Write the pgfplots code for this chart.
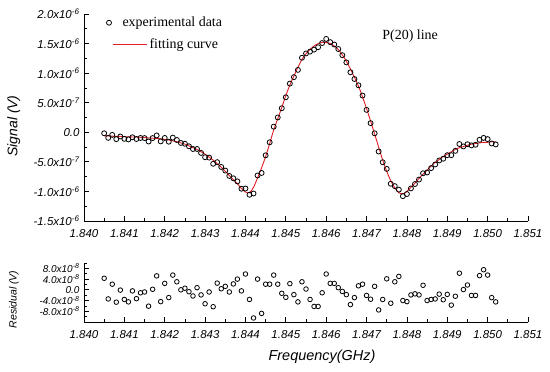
\documentclass[border=0pt]{standalone}
\usepackage{pgfplots}
\usepackage{pgfplotstable}
\pgfplotsset{compat=1.18}
\usepackage{fontspec}
\setmainfont{Liberation Serif}
\setsansfont{Liberation Sans}
\definecolor{fitred}{RGB}{228,28,36}

% f, residual r (in 1e-8 V), fitted curve (in 1e-6 V)
\pgfplotstableread{
f r fit
1.8405 4.3 -0.060
1.8406 -3.4 -0.060
1.8407 2.1 -0.065
1.8408 -4.6 -0.070
1.8409 -0.1 -0.070
1.8410 -3.6 -0.075
1.8411 -4.5 -0.075
1.8412 -0.4 -0.080
1.8413 -3.3 -0.080
1.8414 -1.1 -0.085
1.8415 -0.8 -0.090
1.8416 -6.1 -0.095
1.8417 0.2 -0.100
1.8418 5.2 -0.105
1.8419 -4.4 -0.110
1.8420 2.4 -0.120
1.8421 -2.9 -0.130
1.8422 5.5 -0.145
1.8423 3.0 -0.160
1.8424 0.0 -0.180
1.8425 0.6 -0.200
1.8426 -0.7 -0.230
1.8427 -2.3 -0.260
1.8428 0.8 -0.290
1.8429 -1.9 -0.330
1.8430 -5.2 -0.370
1.8431 -0.8 -0.420
1.8432 -6.3 -0.470
1.8433 2.5 -0.530
1.8434 0.4 -0.590
1.8435 1.3 -0.660
1.8436 -0.8 -0.730
1.8437 2.2 -0.800
1.8438 4.0 -0.870
1.8439 -0.4 -0.950
1.8440 5.9 -1.010
1.8441 -3.6 -1.020
1.8442 -10.5 -0.930
1.8443 4.0 -0.770
1.8444 -8.8 -0.600
1.8445 2.1 -0.410
1.8446 2.1 -0.190
1.8447 5.5 0.040
1.8448 2.1 0.230
1.8449 -1.3 0.420
1.8450 -2.8 0.620
1.8451 2.3 0.800
1.8452 -1.8 0.950
1.8453 -4.5 1.100
1.8454 3.0 1.230
1.8455 0.3 1.330
1.8456 -3.6 1.400
1.8457 -6.2 1.460
1.8458 -6.2 1.500
1.8459 -1.1 1.520
1.8460 5.9 1.520
1.8461 2.4 1.500
1.8462 2.4 1.460
1.8463 0.8 1.400
1.8464 -0.6 1.310
1.8465 -1.8 1.200
1.8466 -5.5 1.070
1.8467 -2.9 0.930
1.8468 1.5 0.780
1.8469 2.1 0.600
1.8470 -2.1 0.400
1.8471 -3.5 0.190
1.8472 1.3 -0.030
1.8473 -7.5 -0.250
1.8474 -3.6 -0.470
1.8475 4.1 -0.660
1.8476 -5.0 -0.820
1.8477 3.0 -0.940
1.8478 5.0 -1.020
1.8479 -4.0 -1.040
1.8480 -4.4 -1.000
1.8481 -1.9 -0.930
1.8482 -1.5 -0.860
1.8483 -1.9 -0.780
1.8484 1.7 -0.710
1.8485 -4.0 -0.640
1.8486 -3.6 -0.570
1.8487 -3.4 -0.510
1.8488 -1.6 -0.460
1.8489 -3.7 -0.410
1.8490 -1.7 -0.370
1.8491 -5.7 -0.330
1.8492 -2.4 -0.290
1.8493 6.2 -0.260
1.8494 0.1 -0.240
1.8495 1.8 -0.220
1.8496 -2.1 -0.200
1.8497 -2.1 -0.190
1.8498 5.3 -0.180
1.8499 7.5 -0.170
1.8500 5.5 -0.170
1.8501 -2.9 -0.160
1.8502 -4.5 -0.160
}\restab

\pgfplotstableread{
f s
1.8405 -0.017
1.8406 -0.094
1.8407 -0.044
1.8408 -0.116
1.8409 -0.071
1.8410 -0.111
1.8411 -0.120
1.8412 -0.084
1.8413 -0.113
1.8414 -0.096
1.8415 -0.098
1.8416 -0.156
1.8417 -0.098
1.8418 -0.053
1.8419 -0.154
1.8420 -0.096
1.8421 -0.159
1.8422 -0.090
1.8423 -0.130
1.8424 -0.180
1.8425 -0.194
1.8426 -0.237
1.8427 -0.283
1.8428 -0.282
1.8429 -0.349
1.8430 -0.422
1.8431 -0.428
1.8432 -0.533
1.8433 -0.505
1.8434 -0.586
1.8435 -0.647
1.8436 -0.738
1.8437 -0.778
1.8438 -0.830
1.8439 -0.954
1.8440 -0.951
1.8441 -1.056
1.8442 -1.035
1.8443 -0.730
1.8444 -0.688
1.8445 -0.389
1.8446 -0.169
1.8447 0.095
1.8448 0.251
1.8449 0.407
1.8450 0.592
1.8451 0.823
1.8452 0.932
1.8453 1.055
1.8454 1.260
1.8455 1.333
1.8456 1.364
1.8457 1.398
1.8458 1.438
1.8459 1.509
1.8460 1.579
1.8461 1.524
1.8462 1.484
1.8463 1.408
1.8464 1.304
1.8465 1.182
1.8466 1.015
1.8467 0.901
1.8468 0.795
1.8469 0.621
1.8470 0.379
1.8471 0.155
1.8472 -0.017
1.8473 -0.325
1.8474 -0.506
1.8475 -0.619
1.8476 -0.870
1.8477 -0.910
1.8478 -0.970
1.8479 -1.080
1.8480 -1.044
1.8481 -0.949
1.8482 -0.875
1.8483 -0.799
1.8484 -0.693
1.8485 -0.680
1.8486 -0.606
1.8487 -0.544
1.8488 -0.476
1.8489 -0.447
1.8490 -0.387
1.8491 -0.387
1.8492 -0.314
1.8493 -0.198
1.8494 -0.239
1.8495 -0.202
1.8496 -0.221
1.8497 -0.211
1.8498 -0.127
1.8499 -0.095
1.8500 -0.115
1.8501 -0.189
1.8502 -0.205
}\sigtab

\pgfplotsset{
  common/.style={
    scale only axis, width=444bp,
    xmin=1.840, xmax=1.851,
    axis x line=bottom, axis y line=left,
    axis line style={-, line width=0.8bp},
    tick align=inside, major tick length=5bp, minor tick length=3bp,
    every tick/.style={black, line width=0.8bp},
    xtick={1.840,1.841,1.842,1.843,1.844,1.845,1.846,1.847,1.848,1.849,1.850,1.851},
    xticklabels={1.840,1.841,1.842,1.843,1.844,1.845,1.846,1.847,1.848,1.849,1.850,1.851},
    minor xtick={1.8405,1.8415,1.8425,1.8435,1.8445,1.8455,1.8465,1.8475,1.8485,1.8495,1.8505},
    ticklabel style={font=\fontsize{11.5}{13}\selectfont\sffamily\itshape},
    xticklabel style={yshift=-5bp},
    yticklabel style={xshift=-1bp},
    clip=false,
  },
  longline/.style={legend image code/.code={%
     \path[draw=none] (0bp,0bp) -- (20bp,0bp);
     \draw[##1, overlay] (12bp,0bp) -- (46bp,0bp);}},
}

\begin{document}
\begin{tikzpicture}
\path[use as bounding box] (0,0) rectangle (550bp,-372bp);
\begin{axis}[common,
  at={(84bp,-14bp)}, anchor=north west, height=207bp,
  ymin=-1.5, ymax=2.0,
  ytick={-1.5,-1,-0.5,0,0.5,1,1.5,2},
  yticklabels={-1.5x10\textsuperscript{-6},-1.0x10\textsuperscript{-6},-5.0x10\textsuperscript{-7},0.0,5.0x10\textsuperscript{-7},1.0x10\textsuperscript{-6},1.5x10\textsuperscript{-6},2.0x10\textsuperscript{-6}},
  minor ytick={-1.25,-0.75,-0.25,0.25,0.75,1.25,1.75},
  ylabel={Signal (V)},
  ylabel style={font=\fontsize{14}{16}\selectfont\sffamily\itshape, at={(axis description cs:-0.158,0.459)}, anchor=center},
  legend style={at={(axis description cs:0.03,1.005)}, anchor=north west, draw=none, fill=none,
    font=\fontsize{14}{16}\selectfont, row sep=6bp, cells={anchor=west}},
  legend cell align=left,
]
\addplot[only marks, mark=o, mark size=2.5bp, mark options={line width=0.8bp, black}] table[x=f, y=s] {\sigtab};
\addlegendentry{experimental data}
\addplot[fitred, line width=0.9bp, smooth, longline] table[x=f, y=fit] {\restab};
\addlegendentry{\hspace{27bp}fitting curve}
\node[font=\fontsize{14}{16}\selectfont] at (axis cs:1.84808,1.62) {P(20) line};
\end{axis}

\begin{axis}[common,
  at={(84bp,-263bp)}, anchor=north west, height=59bp,
  ymin=-12, ymax=10,
  ytick={-8,-4,0,4,8},
  yticklabels={-8.0x10\textsuperscript{-8},-4.0x10\textsuperscript{-8},0.0,4.0x10\textsuperscript{-8},8.0x10\textsuperscript{-8}},
  yticklabel style={font=\fontsize{10}{10}\selectfont\sffamily\itshape, inner ysep=0.3bp},
  minor ytick={-10,-6,-2,2,6,10},
  ylabel={Residual (V)},
  ylabel style={font=\fontsize{10.5}{12}\selectfont\sffamily\itshape, at={(axis description cs:-0.158,0.38)}, anchor=center},
  xlabel={Frequency(GHz)},
  xlabel style={font=\fontsize{14.5}{16}\selectfont\sffamily\itshape, at={(axis description cs:0.536,0)}, yshift=-35bp, anchor=center},
]
\addplot[only marks, mark=o, mark size=2.3bp, mark options={line width=0.8bp, black}] table[x=f, y=r] {\restab};
\end{axis}
\end{tikzpicture}
\end{document}
